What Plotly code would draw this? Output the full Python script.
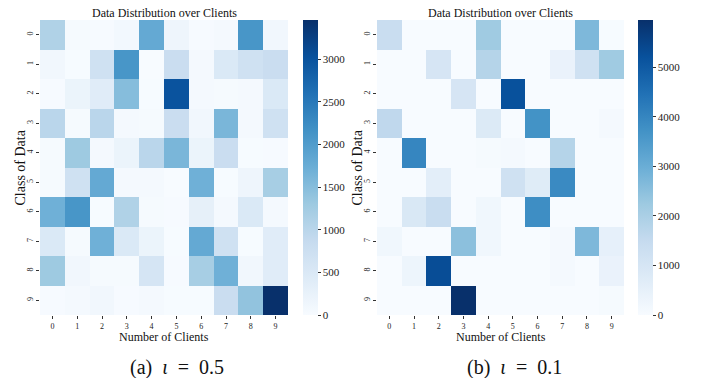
import plotly.graph_objects as go

clients = [str(i) for i in range(10)]
classes = [str(i) for i in range(10)]

# Samples per (class, client) for the two partitions
counts_a = [
    [1100, 30, 20, 80, 1800, 150, 20, 50, 2100, 100],
    [100, 10, 700, 2100, 0, 800, 60, 500, 700, 800],
    [20, 200, 400, 1500, 10, 3000, 50, 40, 60, 500],
    [1000, 40, 1000, 50, 30, 800, 100, 1600, 50, 700],
    [30, 1300, 50, 200, 1000, 1600, 200, 800, 10, 20],
    [40, 700, 1800, 60, 60, 0, 1700, 10, 150, 1200],
    [1700, 2100, 10, 1100, 30, 20, 300, 60, 500, 50],
    [500, 30, 1700, 500, 200, 10, 1800, 700, 10, 400],
    [1300, 100, 30, 40, 600, 20, 1200, 1700, 100, 400],
    [20, 50, 100, 20, 60, 10, 10, 800, 1400, 3460],
]
counts_b = [
    [1400, 0, 0, 0, 2200, 0, 0, 0, 2700, 20],
    [0, 0, 1000, 0, 1800, 0, 0, 400, 1200, 2200],
    [0, 0, 0, 1000, 0, 5200, 0, 0, 0, 0],
    [1600, 0, 0, 0, 800, 0, 3700, 0, 0, 80],
    [0, 4000, 0, 0, 50, 80, 0, 1800, 0, 0],
    [0, 0, 600, 0, 0, 1200, 700, 3900, 0, 0],
    [0, 900, 1400, 0, 200, 0, 3800, 0, 0, 0],
    [200, 0, 0, 2500, 200, 0, 0, 100, 2700, 500],
    [0, 300, 5300, 0, 0, 0, 0, 100, 0, 400],
    [0, 0, 0, 5950, 0, 0, 0, 0, 0, 50],
]
cbar_ticks_a = [0, 500, 1000, 1500, 2000, 2500, 3000]
cbar_ticks_b = [0, 1000, 2000, 3000, 4000, 5000]
captions = ["(a)&nbsp;&nbsp;<i>ι</i>&nbsp;&nbsp;=&nbsp;&nbsp;0.5",
            "(b)&nbsp;&nbsp;<i>ι</i>&nbsp;&nbsp;=&nbsp;&nbsp;0.1"]

W, H = 701, 378
FONT = "Liberation Serif"

def px_x(p):
    return p / W

def px_y(p):
    return 1 - p / H

top, bottom = 20, 315
fig = go.Figure()

panels = [
    (counts_a, cbar_ticks_a, "x", "y", (40, 288), 303),
    (counts_b, cbar_ticks_b, "x2", "y2", (377, 624), 638),
]
for z, ticks, xa, ya, (x0, x1), cbx in panels:
    fig.add_trace(go.Heatmap(
        z=z, x=clients, y=classes, xaxis=xa, yaxis=ya,
        colorscale="Blues", zmin=0,
        colorbar=dict(
            x=px_x(cbx), xanchor="left", xref="paper", xpad=0, ypad=0,
            y=px_y(bottom), yanchor="bottom", len=(bottom - top) / H,
            lenmode="fraction", thickness=15, outlinewidth=0,
            tickvals=ticks, ticks="outside", ticklen=3, tickcolor="#333",
            tickfont=dict(family=FONT, size=11, color="#222"),
        ),
    ))

axis_common = dict(showgrid=False, zeroline=False, showline=False,
                   ticks="outside", ticklen=3, tickcolor="#333",
                   tickfont=dict(family=FONT, size=8, color="#222"))

fig.update_layout(
    width=W, height=H,
    margin=dict(l=0, r=0, t=0, b=0),
    paper_bgcolor="white", plot_bgcolor="white",
    font=dict(family=FONT, color="#111"),
    xaxis=dict(domain=[px_x(40), px_x(288)], anchor="y", **axis_common),
    yaxis=dict(domain=[px_y(bottom), px_y(top)], anchor="x", autorange="reversed",
               tickangle=-90, **axis_common),
    xaxis2=dict(domain=[px_x(377), px_x(624)], anchor="y2", **axis_common),
    yaxis2=dict(domain=[px_y(bottom), px_y(top)], anchor="x2", autorange="reversed",
                tickangle=-90, **axis_common),
)

def label(text, x, y, size, angle=0):
    fig.add_annotation(text=text, x=px_x(x), y=px_y(y), xref="paper", yref="paper",
                       xanchor="center", yanchor="middle", textangle=angle,
                       showarrow=False, font=dict(family=FONT, size=size, color="#111"))

for x0, x1, ylab_x in [(40, 288, 20), (377, 624, 357)]:
    cx = (x0 + x1) / 2
    label("Data Distribution over Clients", cx, 13, 12)
    label("Number of Clients", cx, 337, 12)
    label("Class of Data", ylab_x, (top + bottom) / 2, 14, angle=-90)

label(captions[0], 177, 367, 20)
label(captions[1], 514, 367, 20)

fig.write_html("out.html")
